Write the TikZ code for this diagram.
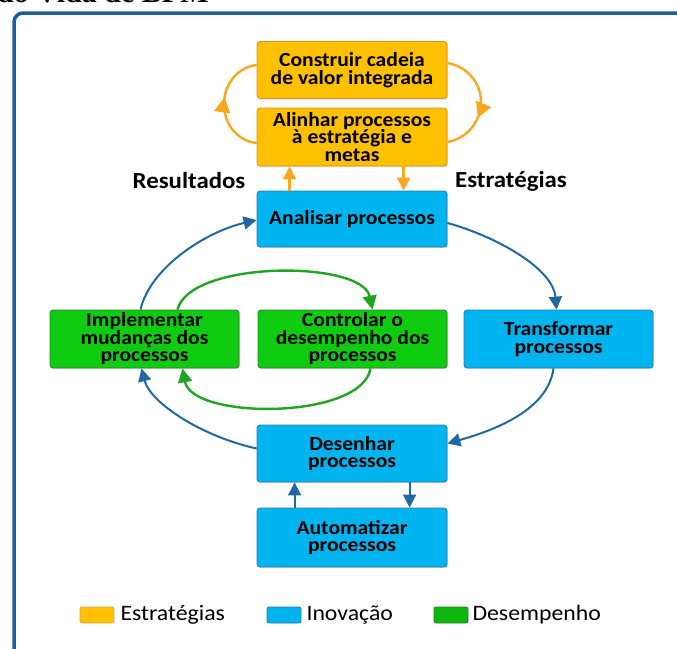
\documentclass[tikz,border=0pt]{standalone}
\usepackage{fontspec}
\setmainfont{Carlito}[FakeStretch=1.08]
\newfontfamily\titlefont{Liberation Serif}
\usetikzlibrary{arrows.meta,calc,decorations.markings,shadows}
\definecolor{orfill}{HTML}{FFC000}
\definecolor{ordraw}{HTML}{D9921A}
\definecolor{orarr}{HTML}{F9A620}
\definecolor{blfill}{HTML}{00B4F0}
\definecolor{bldraw}{HTML}{2A7AAE}
\definecolor{blarr}{HTML}{1F69A0}
\definecolor{grfill}{HTML}{10CC10}
\definecolor{grdraw}{HTML}{2C7A2C}
\definecolor{grarr}{HTML}{22A322}
\definecolor{frame}{HTML}{1B5E9F}
\begin{document}
\begin{tikzpicture}[x=1pt,y=-1pt,
  box/.style={draw, line width=0.8pt, rounded corners=3pt, minimum width=190pt,
    minimum height=57pt, align=center, inner sep=1pt, text=black,
    font=\bfseries\fontsize{20}{17.5}\selectfont,
    drop shadow={opacity=0.25, shadow xshift=1.2pt, shadow yshift=-1.2pt}},
  obox/.style={box, fill=orfill, draw=ordraw},
  bbox/.style={box, fill=blfill, draw=bldraw},
  gbox/.style={box, fill=grfill, draw=grdraw},
  bline/.style={color=blarr, line width=2pt, -{Triangle[length=13pt,width=13pt]}},
  gline/.style={color=grarr, line width=2.4pt, -{Triangle[length=14pt,width=14pt]}},
  oline/.style={color=orarr, line width=2.4pt, -{Triangle[length=13pt,width=13pt]}},
  oloop/.style={color=orarr, line width=2.4pt, postaction={decorate},
    decoration={markings, mark=at position #1 with {\arrow{Triangle[length=15pt,width=16pt]}}}},
  lbl/.style={font=\bfseries\fontsize{23}{23}\selectfont, text=black},
  leg/.style={font=\fontsize{22}{22}\selectfont, text=black, anchor=west},
  swatch/.style={draw, line width=0.8pt, rounded corners=2pt, minimum width=34pt, minimum height=16pt, inner sep=0pt}
]
\useasboundingbox (0,0) rectangle (677,648);

% cut-off title and frame
\node[anchor=base west, inner sep=0pt, font=\titlefont\bfseries\fontsize{30}{30}\selectfont] (title) at (-3,2.5) {do Vida de BPM};
\draw[color=frame, line width=3.5pt, rounded corners=9pt] (14,680) -- (14,13) -- (700,13);

% boxes
\node[obox] (con) at (352,70) {Construir cadeia\\de valor integrada};
\node[obox, minimum height=58pt] (ali) at (352,137) {Alinhar processos\\à estratégia e\\metas};
\node[bbox, minimum height=56pt] (ana) at (352,219) {Analisar processos};
\node[bbox, minimum width=189pt, minimum height=58pt] (tra) at (558.5,339) {Transformar\\processos};
\node[gbox, minimum width=189pt, minimum height=58pt] (ctl) at (352.5,339) {Controlar o\\desempenho dos\\processos};
\node[gbox, minimum width=189pt, minimum height=58pt] (imp) at (144.5,339) {Implementar\\mudanças dos\\processos};
\node[bbox] (des) at (352,453.5) {Desenhar\\processos};
\node[bbox, minimum height=59pt] (aut) at (352,537.5) {Automatizar\\processos};

% side labels
\node[lbl] (res) at (189,181) {Resultados};
\node[lbl] (est) at (511,181) {Estratégias};

% orange loop
\draw[oloop=0.56] ($(ali.west)+(0,6)$) .. controls (238,141) and (224,125) .. (224,104)
   .. controls (224,84) and (238,67) .. ($(con.west)+(0,-5)$);
\draw[oloop=0.64] ($(con.east)+(0,-7)$) .. controls (466,66) and (481,82) .. (481,102)
   .. controls (481,122) and (466,139) .. ($(ali.east)+(0,5)$);
\draw[oline] ($(ana.north west)+(33,0)$) -- ($(ali.south west)+(33,0)$);
\draw[oline] ($(ali.south west)+(147,0)$) -- ($(ana.north west)+(147,0)$);

% blue loop
\draw[bline] ($(ana.east)+(0,4)$) .. controls (495,236) and (553,268) .. ($(tra.north)+(-2,0)$);
\draw[bline] ($(tra.south)+(-5,0)$) .. controls (548,410) and (495,430) .. ($(des.east)+(0,-10)$);
\draw[bline] ($(des.west)+(0,-5)$) .. controls (200,436) and (150,402) .. ($(imp.south)+(-3,0)$);
\draw[bline] ($(imp.north)+(-4,0)$) .. controls (150,268) and (205,232) .. ($(ana.west)+(0,1)$);

% green loop
\draw[gline] ($(imp.north)+(33,0)$) .. controls (190,260) and (362,260) .. ($(ctl.north)+(20,0)$);
\draw[gline] ($(ctl.south)+(18,0)$) .. controls (362,420) and (192,420) .. ($(imp.south)+(38,0)$);

% blue straight arrows
\draw[bline] ($(aut.north west)+(38,0)$) -- ($(des.south west)+(38,0)$);
\draw[bline] ($(des.south west)+(153,0)$) -- ($(aut.north west)+(153,0)$);

% legend
\node[swatch, fill=orfill, draw=ordraw!80] (s1) at (97,615) {};
\node[leg] (l1) at (117,615) {Estratégias};
\node[swatch, fill=blfill, draw=bldraw] (s2) at (284,615) {};
\node[leg] (l2) at (303,615) {Inovação};
\node[swatch, fill=grfill!90!black, draw=grdraw] (s3) at (451,615) {};
\node[leg] (l3) at (469,615) {Desempenho};
\end{tikzpicture}
\end{document}
